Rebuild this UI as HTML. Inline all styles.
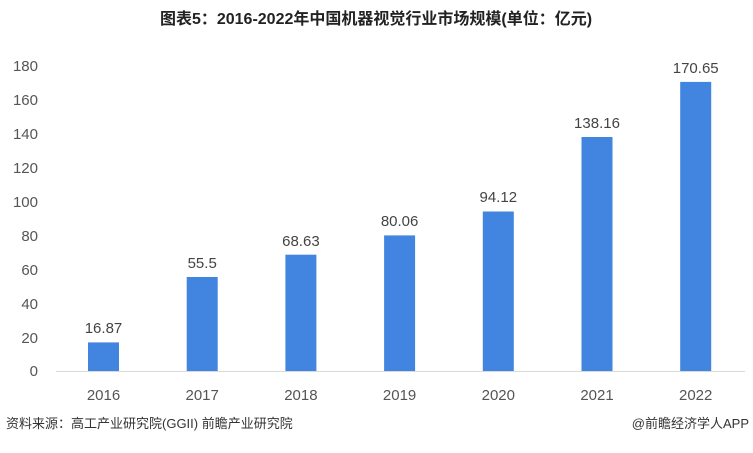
<!DOCTYPE html>
<html><head><meta charset="utf-8"><style>
body{margin:0;background:#fff;}
svg text{font-family:"Liberation Sans","Noto Sans CJK SC",sans-serif;}
</style></head><body>
<svg width="753" height="448" xmlns="http://www.w3.org/2000/svg">
<rect width="753" height="448" fill="#fff"/>
<text x="376" y="24" text-anchor="middle" font-size="16" font-weight="bold" fill="#222">图表5：2016-2022年中国机器视觉行业市场规模(单位：亿元)</text>
<g font-size="15" fill="#555" text-anchor="end">
<text x="38" y="376">0</text>
<text x="38" y="343">20</text>
<text x="38" y="309">40</text>
<text x="38" y="275">60</text>
<text x="38" y="241">80</text>
<text x="38" y="207">100</text>
<text x="38" y="173">120</text>
<text x="38" y="139">140</text>
<text x="38" y="105">160</text>
<text x="38" y="71">180</text>
</g>
<line x1="56" y1="371.5" x2="745" y2="371.5" stroke="#d9d9d9" stroke-width="1"/>
<g fill="#4285e0">
<rect x="88" y="342.4" width="31" height="28.6"/>
<rect x="186.7" y="277" width="31" height="94"/>
<rect x="285.4" y="254.7" width="31" height="116.3"/>
<rect x="384.1" y="235.4" width="31" height="135.6"/>
<rect x="482.8" y="211.5" width="31" height="159.5"/>
<rect x="581.5" y="137" width="31" height="234"/>
<rect x="680.2" y="81.9" width="31" height="289.1"/>
</g>
<g font-size="15" fill="#444" text-anchor="middle">
<text x="103.5" y="333">16.87</text>
<text x="202.2" y="268">55.5</text>
<text x="300.9" y="246">68.63</text>
<text x="399.6" y="226">80.06</text>
<text x="498.3" y="202">94.12</text>
<text x="597" y="128">138.16</text>
<text x="695.7" y="73">170.65</text>
</g>
<g font-size="15" fill="#555" text-anchor="middle">
<text x="103.5" y="400">2016</text>
<text x="202.2" y="400">2017</text>
<text x="300.9" y="400">2018</text>
<text x="399.6" y="400">2019</text>
<text x="498.3" y="400">2020</text>
<text x="597" y="400">2021</text>
<text x="695.7" y="400">2022</text>
</g>
<text x="6" y="428" font-size="13" fill="#333">资料来源：高工产业研究院(GGII) 前瞻产业研究院</text>
<text x="749" y="428" font-size="13" fill="#333" text-anchor="end">@前瞻经济学人APP</text>
</svg>
</body></html>
